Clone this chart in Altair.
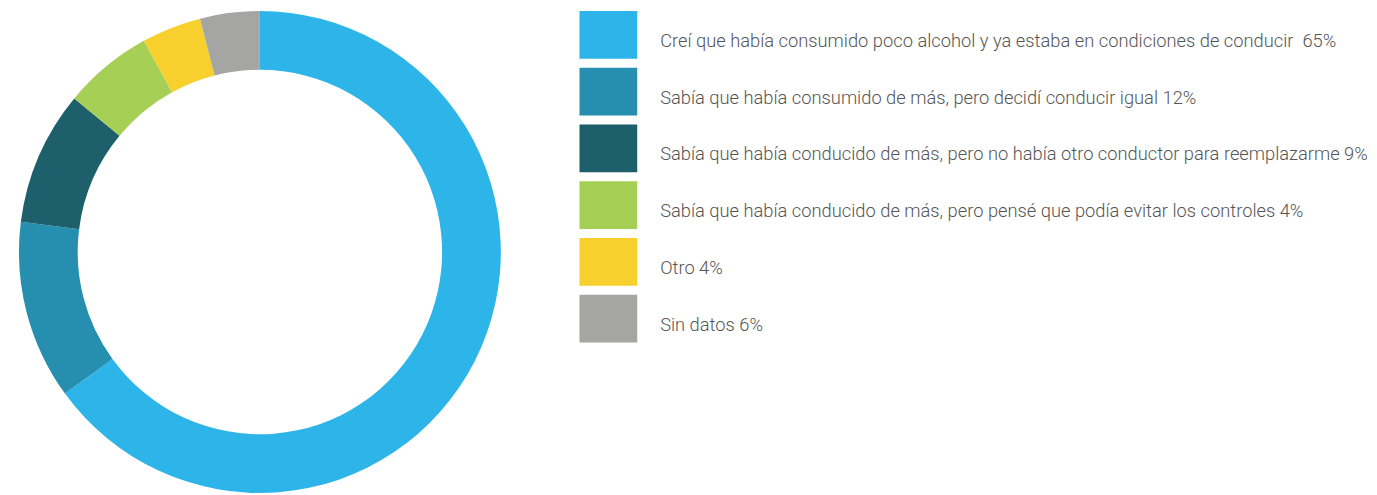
import altair as alt
import pandas as pd

labels = [
    "Creí que había consumido poco alcohol y ya estaba en condiciones de conducir \u00a065%",
    "Sabía que había consumido de más, pero decidí conducir igual 12%",
    "Sabía que había conducido de más, pero no había otro conductor para reemplazarme 9%",
    "Sabía que había conducido de más, pero pensé que podía evitar los controles 4%",
    "Otro 4%",
    "Sin datos 6%",
]
values = [65, 12, 9, 6, 4, 4]
colors = ["#2DB4E8", "#268FAF", "#1D5F6B", "#A6CF55", "#F8D02D", "#A5A5A3"]

df = pd.DataFrame({"label": labels, "value": values, "order": list(range(len(labels)))})

color = alt.Color("label:N", scale=alt.Scale(domain=labels, range=colors), legend=None)

donut = (
    alt.Chart(df)
    .mark_arc(outerRadius=242, innerRadius=183)
    .encode(
        theta=alt.Theta("value:Q", stack=True),
        color=color,
        order=alt.Order("order:Q"),
    )
    .properties(width=506, height=488)
)

y = alt.Y(
    "label:N",
    sort=labels,
    axis=None,
    scale=alt.Scale(paddingInner=0.158, paddingOuter=0.035),
)

rects = alt.Chart(df).mark_rect().encode(
    y=y, x=alt.value(0), x2=alt.value(58), color=color
)
texts = alt.Chart(df).mark_text(
    align="left", baseline="middle", dy=6, font="Roboto", fontWeight=300,
    fontSize=18.4, color="#555555"
).encode(y=y, x=alt.value(81), text="label:N")

legend = (rects + texts).properties(width=790, height=337)

chart = (
    alt.hconcat(donut, legend, spacing=68)
    .properties(padding=0)
    .configure_view(stroke=None)
)

chart.save("out.html", embed_options={"renderer": "svg", "actions": False})
